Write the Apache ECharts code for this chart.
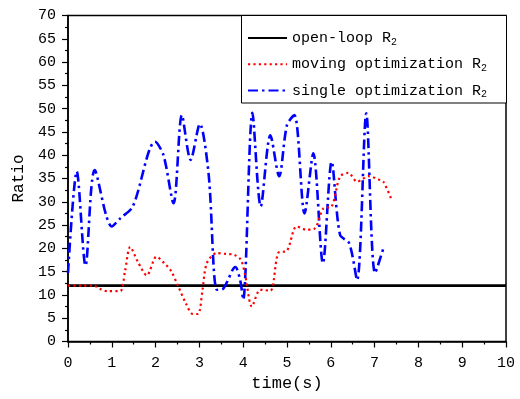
<!DOCTYPE html>
<html>
<head>
<meta charset="utf-8">
<script src="https://cdn.jsdelivr.net/npm/echarts@6/dist/echarts.min.js"></script>
<style>
  html, body { margin: 0; padding: 0; background: #fff; }
  #chart { width: 520px; height: 399px; }
</style>
</head>
<body>
<div id="chart"></div>
<script>
// time (s) and ratio samples for each control strategy
const openLoopTime = [0, 10];
const openLoopRatio = [12, 12];

const movingTime = [0, 0.3, 0.58, 0.75, 0.9, 1.19, 1.3, 1.42, 1.6, 1.8, 2.02, 2.2, 2.35, 2.5, 2.7, 2.85, 2.97, 3.07, 3.17, 3.4, 3.6, 3.8, 3.95, 4.05, 4.2, 4.39, 4.62, 4.8, 5.0, 5.22, 5.45, 5.64, 5.83, 6.02, 6.21, 6.4, 6.6, 6.71, 6.86, 7.09, 7.2, 7.39];
const movingRatio = [12, 12, 12, 11.2, 10.8, 10.8, 15, 20.3, 17, 14.2, 18.2, 16.8, 15.2, 12.2, 8, 5.9, 5.9, 11, 16.8, 19, 18.8, 18.6, 17.5, 14, 7.5, 11.1, 10.9, 19, 19.5, 24.7, 24, 24.3, 28.6, 29, 35.4, 36.2, 34.3, 34.8, 35.5, 34.8, 34.3, 30.4];

const singleTime = [0, 0.2, 0.4, 0.61, 1.0, 1.2, 1.48, 1.99, 2.18, 2.41, 2.6, 2.8, 3.01, 3.21, 3.4, 3.55, 3.82, 3.93, 4.0, 4.21, 4.4, 4.62, 4.82, 5.0, 5.17, 5.4, 5.6, 5.82, 6.02, 6.21, 6.42, 6.6, 6.81, 7.01, 7.2];
const singleRatio = [14.7, 36.5, 16.3, 36.8, 24.7, 26.5, 29, 42.9, 40, 29.7, 48.6, 39, 46.7, 36, 11.1, 11.4, 16, 13.2, 9, 49.1, 29, 44.3, 35.5, 46.5, 48.6, 27.5, 40.4, 16.8, 38.6, 22.9, 21.1, 13.2, 49, 14.7, 20];

const xTicks = { min: 0, max: 10, interval: 1 };
const yTicks = { min: 0, max: 70, interval: 5 };

const zip = (xs, ys) => xs.map((x, i) => [x, ys[i]]);

const FONT = '"Liberation Mono", "DejaVu Sans Mono", monospace';
const legendLabels = {
  'open-loop R2': '{t|open-loop R}{s|2}',
  'moving optimization R2': '{t|moving optimization R}{s|2}',
  'single optimization R2': '{t|single optimization R}{s|2}'
};

const chart = echarts.init(document.getElementById('chart'), null, { renderer: 'canvas' });

chart.setOption({
  animation: false,
  backgroundColor: '#fff',
  grid: {
    left: 68, right: 14, top: 15.5, bottom: 57.5,
    show: true, borderColor: '#000', borderWidth: 1.5, containLabel: false
  },
  graphic: [{
    type: 'rect',
    shape: { x: 241.5, y: 15.5, width: 265, height: 87.5 },
    style: { fill: '#fff', stroke: '#000', lineWidth: 1 },
    z: 5
  }],
  legend: {
    orient: 'vertical',
    left: 241, top: 16,
    padding: [13, 10, 10, 6],
    itemWidth: 39, itemHeight: 14, itemGap: 8.3,
    z: 10,
    // legend keys show only the line stroke
    itemStyle: { opacity: 0 },
    formatter: name => legendLabels[name],
    textStyle: {
      fontFamily: FONT, fontSize: 15, color: '#000',
      rich: {
        t: { fontFamily: FONT, fontSize: 15, color: '#000', lineHeight: 18 },
        s: { fontFamily: FONT, fontSize: 10, color: '#000', verticalAlign: 'bottom', lineHeight: 10, padding: [8, 0, 0, 0] }
      }
    },
    data: ['open-loop R2', 'moving optimization R2', 'single optimization R2']
  },
  xAxis: {
    type: 'value',
    min: xTicks.min, max: xTicks.max, interval: xTicks.interval,
    name: 'time(s)', nameLocation: 'middle', nameGap: 33,
    nameTextStyle: { fontFamily: FONT, fontSize: 17, color: '#000' },
    axisLine: { show: true, lineStyle: { color: '#000', width: 1.5 } },
    axisTick: { show: true, inside: false, length: 6, lineStyle: { color: '#000', width: 1.2 } },
    minorTick: { show: true, splitNumber: 2, length: 3, lineStyle: { color: '#000', width: 1.2 } },
    axisLabel: { fontFamily: FONT, fontSize: 15, color: '#000', margin: 14 },
    splitLine: { show: false }
  },
  yAxis: {
    type: 'value',
    min: yTicks.min, max: yTicks.max, interval: yTicks.interval,
    name: 'Ratio', nameLocation: 'middle', nameGap: 31,
    nameTextStyle: { fontFamily: FONT, fontSize: 16, color: '#000' },
    axisLine: { show: true, lineStyle: { color: '#000', width: 1.5 } },
    axisTick: { show: true, inside: false, length: 6, lineStyle: { color: '#000', width: 1.2 } },
    minorTick: { show: true, splitNumber: 2, length: 3, lineStyle: { color: '#000', width: 1.2 } },
    axisLabel: { fontFamily: FONT, fontSize: 15, color: '#000', margin: 12 },
    splitLine: { show: false }
  },
  series: [
    {
      name: 'open-loop R2', type: 'line', symbol: 'none',
      data: zip(openLoopTime, openLoopRatio),
      lineStyle: { color: '#000', width: 2.8, type: 'solid' },
      itemStyle: { color: '#000' }, z: 1
    },
    {
      name: 'moving optimization R2', type: 'line', symbol: 'none', smooth: 0.3,
      data: zip(movingTime, movingRatio),
      lineStyle: { color: '#ff0000', width: 2.2, type: [2.2, 3.2] },
      itemStyle: { color: '#ff0000' }, z: 3
    },
    {
      name: 'single optimization R2', type: 'line', symbol: 'none', smooth: 0.3,
      data: zip(singleTime, singleRatio),
      lineStyle: { color: '#0000ff', width: 2.6, type: [10, 4, 2.5, 4] },
      itemStyle: { color: '#0000ff' }, z: 2
    }
  ]
});
</script>
</body>
</html>
